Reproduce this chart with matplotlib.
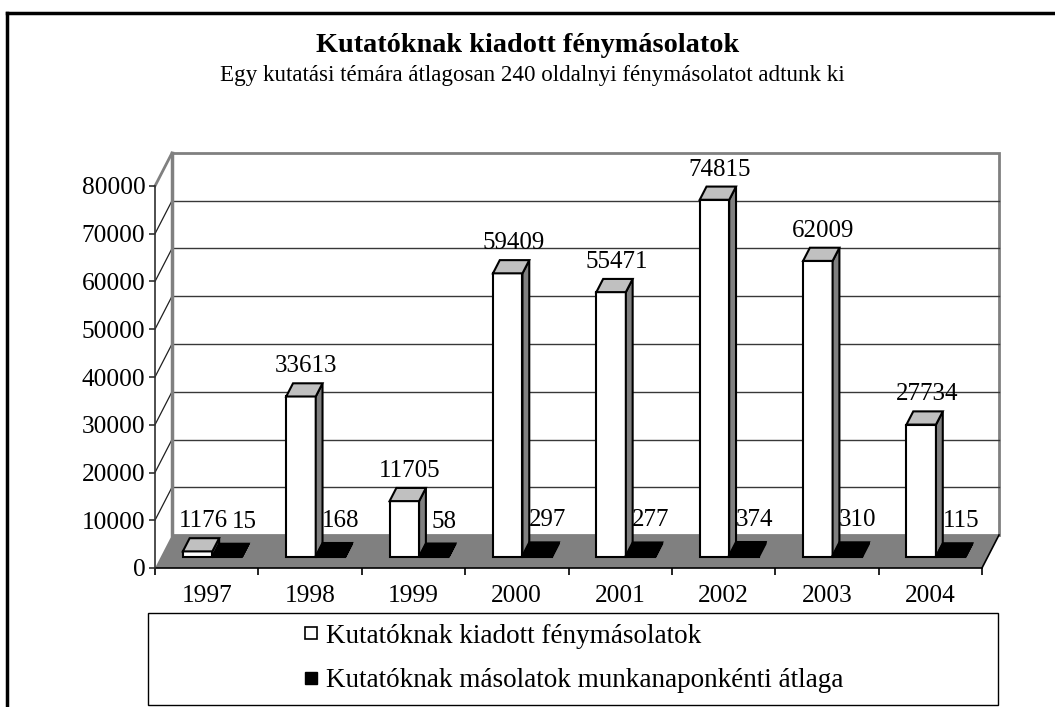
import matplotlib
matplotlib.use("Agg")
import matplotlib.pyplot as plt
from matplotlib.patches import Polygon, Rectangle
from matplotlib.lines import Line2D

YEARS = ["1997", "1998", "1999", "2000", "2001", "2002", "2003", "2004"]
COPIES = [1176, 33613, 11705, 59409, 55471, 74815, 62009, 27734]
DAILY_AVG = [15, 168, 58, 297, 277, 374, 310, 115]
SERIES_LABELS = [
    "Kutatóknak kiadott fénymásolatok",
    "Kutatóknak másolatok munkanaponkénti átlaga",
]
TITLE = "Kutatóknak kiadott fénymásolatok"
SUBTITLE = "Egy kutatási témára átlagosan 240 oldalnyi fénymásolatot adtunk ki"
Y_TICKS = list(range(0, 80001, 10000))

FONT = "Liberation Serif"
W_PX, H_PX = 1055, 707

plt.rcParams["font.family"] = [FONT, "DejaVu Serif"]

fig = plt.figure(figsize=(W_PX / 100, H_PX / 100), dpi=100)
fig.patch.set_facecolor("white")

# front plane of the 3D box, in pixels
left_px, right_px, zero_px, top_px = 155, 982, 568, 186
ax = fig.add_axes([left_px / W_PX, (H_PX - zero_px) / H_PX,
                   (right_px - left_px) / W_PX, (zero_px - top_px) / H_PX])
ax.set_xlim(-0.5, len(YEARS) - 0.5)
ax.set_ylim(0, 80000)
ax.patch.set_visible(False)

px_x = (right_px - left_px) / len(YEARS)
px_y = (zero_px - top_px) / 80000
DX = 17 / px_x          # full depth in x data units
DY = 33 / px_y          # full depth in y data units
ymax = 80000
x0w, x1w = -0.5, len(YEARS) - 0.5

# back wall
wall = Rectangle((x0w + DX, DY), x1w - x0w, ymax, facecolor="white",
                 edgecolor="#808080", lw=2, zorder=0.5, clip_on=False)
ax.add_patch(wall)
for v in Y_TICKS[1:-1]:
    ax.plot([x0w + DX, x1w + DX], [v + DY, v + DY], color="#383838", lw=1,
            zorder=0.6, clip_on=False)
# left wall
for v in Y_TICKS[1:-1]:
    ax.plot([x0w, x0w + DX], [v, v + DY], color="#202020", lw=0.9,
            zorder=0.6, clip_on=False)
ax.plot([x0w, x0w + DX], [ymax, ymax + DY], color="#808080", lw=2,
        zorder=0.6, clip_on=False)
ax.plot([x0w + DX, x0w + DX], [DY, ymax + DY], color="#808080", lw=2.5,
        zorder=0.7, clip_on=False)

# floor
floor = Polygon([(x0w, 0), (x1w, 0), (x1w + DX, DY), (x0w + DX, DY)],
                closed=True, facecolor="#808080", edgecolor="none",
                zorder=1, clip_on=False)
ax.add_patch(floor)
ax.plot([x1w, x1w + DX], [0, DY], color="black", lw=1.2, zorder=1.1,
        clip_on=False)

# bars
bw = 29.5 / px_x
d0, d1 = 1 / 3, 0.733
dd = d1 - d0


def draw_bar(xl, h, front, side, top):
    xb = xl + d0 * DX
    yb = d0 * DY
    ax.bar(xb, h, width=bw, bottom=yb, align="edge", facecolor=front,
           edgecolor="black", lw=1.5, zorder=3, clip_on=False)
    xr = xb + bw
    ax.add_patch(Polygon([(xr, yb), (xr, yb + h), (xr + dd * DX, yb + h + dd * DY),
                          (xr + dd * DX, yb + dd * DY)], closed=True,
                         facecolor=side, edgecolor="black", lw=1.5, zorder=3,
                         clip_on=False))
    ax.add_patch(Polygon([(xb, yb + h), (xr, yb + h), (xr + dd * DX, yb + h + dd * DY),
                          (xb + dd * DX, yb + h + dd * DY)], closed=True,
                         facecolor=top, edgecolor="black", lw=1.5, zorder=3,
                         clip_on=False))


label_pairs = []
for i, (a, b) in enumerate(zip(COPIES, DAILY_AVG)):
    draw_bar(i - bw, a, "white", "#808080", "#c0c0c0")
    draw_bar(i, b, "black", "black", "black")
    cx_a = i - bw / 2 + (d0 + d1) / 2 * DX
    cx_b = i + bw / 2 + (d0 + d1) / 2 * DX
    ta = ax.annotate(str(a), (cx_a, a + d1 * DY), xytext=(2, 17),
                     textcoords="offset pixels", ha="center", va="center",
                     fontsize=18, zorder=5, annotation_clip=False)
    tb = ax.annotate(str(b), (cx_b, b + d1 * DY), xytext=(7, 22),
                     textcoords="offset pixels", ha="center", va="center",
                     fontsize=18, zorder=5, annotation_clip=False)
    label_pairs.append((ta, tb))

# axes / ticks
for s in ["top", "right"]:
    ax.spines[s].set_visible(False)
ax.spines["left"].set_color("#303030")
ax.spines["left"].set_linewidth(1.2)
ax.spines["bottom"].set_color("black")
ax.spines["bottom"].set_linewidth(1.2)
ax.spines["bottom"].set_zorder(1.2)
ax.set_yticks(Y_TICKS)
ax.set_yticklabels([str(v) for v in Y_TICKS], fontsize=18.3)
ax.tick_params(axis="y", direction="out", length=4, width=1.2, color="#303030", pad=3)
ax.set_xticks(range(len(YEARS)))
ax.set_xticklabels(YEARS, fontsize=18.3)
ax.tick_params(axis="x", which="major", length=0, pad=12)
ax.set_xticks([i - 0.5 for i in range(len(YEARS) + 1)], minor=True)
ax.tick_params(axis="x", which="minor", direction="out", length=5, width=1.2, color="black")

# titles
fig.text(0.5, 1 - 46 / H_PX, TITLE, ha="center", va="center", fontsize=20.3,
         fontweight="bold")
fig.text(0.505, 1 - 76 / H_PX, SUBTITLE, ha="center", va="center", fontsize=16.6)

# legend
fig.patches.append(Rectangle((148 / W_PX, (H_PX - 705) / H_PX), 850 / W_PX, 92 / H_PX,
                             transform=fig.transFigure, facecolor="white",
                             edgecolor="black", lw=1))
handles = [
    Line2D([], [], ls="none", marker="s", markersize=9, markerfacecolor="white",
           markeredgecolor="black", markeredgewidth=1.2),
    Line2D([], [], ls="none", marker="s", markersize=9, markerfacecolor="black",
           markeredgecolor="black"),
]
fig.legend(handles, SERIES_LABELS, loc="center left",
           bbox_to_anchor=(289 / W_PX, (H_PX - 658.5) / H_PX), frameon=False,
           fontsize=19.5, handlelength=0.6, handletextpad=0.25, labelspacing=0.72,
           borderpad=0)

# outer frame (only top and left visible)
fig.lines.append(Line2D([7 / W_PX, 7 / W_PX], [0, 1 - 13 / H_PX],
                        transform=fig.transFigure, color="black", lw=2.5))
fig.lines.append(Line2D([7 / W_PX, 1], [1 - 13 / H_PX, 1 - 13 / H_PX],
                        transform=fig.transFigure, color="black", lw=2.5))

# push a small-value label right if it collides with its neighbour
fig.canvas.draw()
renderer = fig.canvas.get_renderer()
for ta, tb in label_pairs:
    ea = ta.get_window_extent(renderer)
    eb = tb.get_window_extent(renderer)
    if ea.overlaps(eb):
        shift = ea.x1 - eb.x0 + 4
        ox, oy = tb.xyann
        tb.xyann = (ox + shift, oy)

fig.savefig("out.png", dpi=100)
